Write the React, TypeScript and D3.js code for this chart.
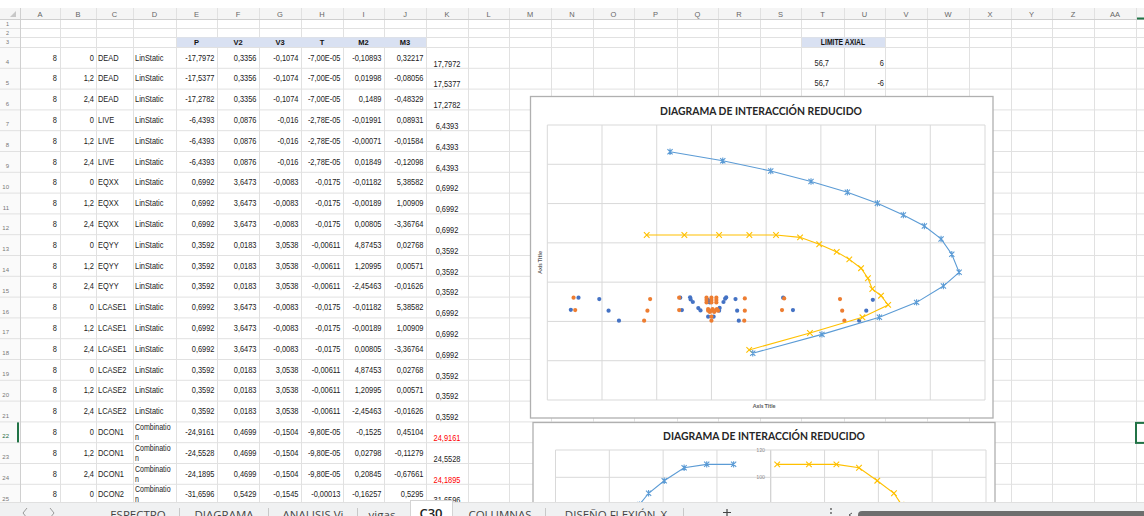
import React from 'react';
import * as d3 from 'd3';

// ---------- Chart 1 data (moment vs axial) ----------
const dotsBlueM = [-24.3, -25.7, -20.5, -18.8, -16.9, -5.7, -5.4, -3.9, -3.8, -3.4, -2.4, -2.0, -0.6, -0.3, -0.6, 0.4, 1.5, 1.4, 2.2, 2.5, 2.7, 4.4, 4.7, 5.0, 13.1, 14.9, 29.5, 28.3, 27.0];
const dotsBlueP = [12.1, 5.9, 11.4, 5.5, 0.4, 12.1, 5.8, 12.3, 11.2, 9.9, 6.8, 5.6, 10.9, 9.7, 2.4, 2.4, 6.9, 5.5, 9.9, 11.6, 12.2, 11.4, 5.5, 0.4, 12.1, 5.8, 11.0, 5.5, 0.4];
const dotsOrangeM = [-25.2, -24.9, -11.2, -11.7, -12.3, -5.9, -5.9, -0.9, 0, 0.9, -0.9, 0, 0.9, -0.9, 0, 0.9, -0.6, 0.2, 1.0, -0.6, 0, 0.6, 1.2, -0.3, 0.5, 0, 0, 6.1, 6.1, 6.0, 13.3, 12.9, 23.5, 23.9, 24.3];
const dotsOrangeP = [12.1, 5.8, 11.4, 5.5, 0.4, 12.1, 5.8, 12.1, 12.1, 12.1, 10.9, 10.9, 10.9, 9.7, 9.7, 9.7, 6.3, 6.3, 6.3, 5.5, 5.5, 5.5, 5.5, 4.8, 4.8, 2.4, 0.4, 11.7, 5.5, 0.4, 11.7, 5.8, 11.4, 5.5, 0.4];
const curveNominalM = [-7.57, 2.07, 10.84, 18.2, 24.84, 30.33, 35.08, 38.92, 41.97, 43.93, 45.27, 42.4, 37.5, 30.7, 20.2, 7.55];
const curveNominalP = [86.4, 81.8, 76.6, 71.2, 65.75, 60.2, 54.2, 48.6, 42.0, 34.2, 25.0, 18.0, 9.7, 2.1, -6.6, -16.2];
const curveDesignM = [-11.83, -4.95, 1.4, 6.93, 11.8, 16.2, 19.7, 22.9, 25.2, 27.35, 28.6, 29.4, 31.0, 32.3, 27.6, 18.0, 6.9];
const curveDesignP = [44.0, 44.0, 44.0, 44.0, 44.0, 42.8, 39.3, 35.4, 31.6, 27.1, 22.0, 16.5, 13.1, 8.4, 2.1, -5.9, -14.5];

// ---------- Chart 2 data ----------
const curve2LeftM = [-24.4, -22.7, -19.8, -16.1, -11.9, -6.9];
const curve2LeftP = [80.0, 88.3, 97.5, 107.0, 109.5, 109.5];
const curve2RightM = [1.2, 7.1, 12.2, 16.4, 19.8, 22.9, 24.3];
const curve2RightP = [109.5, 109.5, 109.5, 107.0, 97.5, 88.3, 80.0];

// ---------- Spreadsheet content ----------
const columnLetters = ['A', 'B', 'C', 'D', 'E', 'F', 'G', 'H', 'I', 'J', 'K', 'L', 'M', 'N', 'O', 'P', 'Q', 'R', 'S', 'T', 'U', 'V', 'W', 'X', 'Y', 'Z', 'AA'];
const headerLabels = ['P', 'V2', 'V3', 'T', 'M2', 'M3'];
const colStory = ['8', '8', '8', '8', '8', '8', '8', '8', '8', '8', '8', '8', '8', '8', '8', '8', '8', '8', '8', '8', '8', '8'];
const colStation = ['0', '1,2', '2,4', '0', '1,2', '2,4', '0', '1,2', '2,4', '0', '1,2', '2,4', '0', '1,2', '2,4', '0', '1,2', '2,4', '0', '1,2', '2,4', '0'];
const colCase = ['DEAD', 'DEAD', 'DEAD', 'LIVE', 'LIVE', 'LIVE', 'EQXX', 'EQXX', 'EQXX', 'EQYY', 'EQYY', 'EQYY', 'LCASE1', 'LCASE1', 'LCASE1', 'LCASE2', 'LCASE2', 'LCASE2', 'DCON1', 'DCON1', 'DCON1', 'DCON2'];
const colType = ['LinStatic', 'LinStatic', 'LinStatic', 'LinStatic', 'LinStatic', 'LinStatic', 'LinStatic', 'LinStatic', 'LinStatic', 'LinStatic', 'LinStatic', 'LinStatic', 'LinStatic', 'LinStatic', 'LinStatic', 'LinStatic', 'LinStatic', 'LinStatic', 'Combination', 'Combination', 'Combination', 'Combination'];
const colP = ['-17,7972', '-17,5377', '-17,2782', '-6,4393', '-6,4393', '-6,4393', '0,6992', '0,6992', '0,6992', '0,3592', '0,3592', '0,3592', '0,6992', '0,6992', '0,6992', '0,3592', '0,3592', '0,3592', '-24,9161', '-24,5528', '-24,1895', '-31,6596'];
const colV2 = ['0,3356', '0,3356', '0,3356', '0,0876', '0,0876', '0,0876', '3,6473', '3,6473', '3,6473', '0,0183', '0,0183', '0,0183', '3,6473', '3,6473', '3,6473', '0,0183', '0,0183', '0,0183', '0,4699', '0,4699', '0,4699', '0,5429'];
const colV3 = ['-0,1074', '-0,1074', '-0,1074', '-0,016', '-0,016', '-0,016', '-0,0083', '-0,0083', '-0,0083', '3,0538', '3,0538', '3,0538', '-0,0083', '-0,0083', '-0,0083', '3,0538', '3,0538', '3,0538', '-0,1504', '-0,1504', '-0,1504', '-0,1545'];
const colT = ['-7,00E-05', '-7,00E-05', '-7,00E-05', '-2,78E-05', '-2,78E-05', '-2,78E-05', '-0,0175', '-0,0175', '-0,0175', '-0,00611', '-0,00611', '-0,00611', '-0,0175', '-0,0175', '-0,0175', '-0,00611', '-0,00611', '-0,00611', '-9,80E-05', '-9,80E-05', '-9,80E-05', '-0,00013'];
const colM2 = ['-0,10893', '0,01998', '0,1489', '-0,01991', '-0,00071', '0,01849', '-0,01182', '-0,00189', '0,00805', '4,87453', '1,20995', '-2,45463', '-0,01182', '-0,00189', '0,00805', '4,87453', '1,20995', '-2,45463', '-0,1525', '0,02798', '0,20845', '-0,16257'];
const colM3 = ['0,32217', '-0,08056', '-0,48329', '0,08931', '-0,01584', '-0,12098', '5,38582', '1,00909', '-3,36764', '0,02768', '0,00571', '-0,01626', '5,38582', '1,00909', '-3,36764', '0,02768', '0,00571', '-0,01626', '0,45104', '-0,11279', '-0,67661', '0,5295'];
const colAbsP = ['17,7972', '17,5377', '17,2782', '6,4393', '6,4393', '6,4393', '0,6992', '0,6992', '0,6992', '0,3592', '0,3592', '0,3592', '0,6992', '0,6992', '0,6992', '0,3592', '0,3592', '0,3592', '24,9161', '24,5528', '24,1895', '31,6596'];
const absPRed = [false, false, false, false, false, false, false, false, false, false, false, false, false, false, false, false, false, false, true, false, true, false];
const limitLabel = 'LIMITE AXIAL';
const limitP = ['56,7', '56,7'];
const limitM = ['6', '-6'];
const sheetTabs = ['ESPECTRO', 'DIAGRAMA', 'ANALISIS Vi', 'vigas', 'C30', 'COLUMNAS', 'DISEÑO FLEXIÓN_X'];
const chartTitle = 'DIAGRAMA DE INTERACCIÓN REDUCIDO';

// ---------- layout ----------
const colEdges = [20, 60, 96, 133, 176, 217, 259, 301, 343, 384, 426, 468, 509, 551, 593, 634, 677, 718, 760, 801, 844, 885, 927, 969, 1011, 1052, 1094, 1136, 1178];
const rowTop = (r: number) => (r === 1 ? 19 : r === 2 ? 28 : r === 3 ? 37 : 47 + (r - 4) * 20.8);
const CELL_FONT = "'Liberation Sans', Arial, sans-serif";
const UI_FONT = "'Liberation Sans', Arial, sans-serif";
const TAB_FONT = "'Open Sans', 'Noto Sans', sans-serif";
const CHART_FONT = "Lato, 'Open Sans', sans-serif";

const BLUE_DOT = '#4472c4';
const ORANGE_DOT = '#ed7d31';
const YELLOW = '#ffc000';
const LIGHT_BLUE = '#5b9bd5';
const GRID = '#d9d9d9';

const starPath = 'M-2.6,-2.6L2.6,2.6M-2.6,2.6L2.6,-2.6M0,-3.2L0,3.2';
const xPath = 'M-2.8,-2.8L2.8,2.8M-2.8,2.8L2.8,-2.8';

// narrow cell text: Liberation Sans squeezed horizontally (like a narrow Excel font)
function Cell(props: { x: number; y: number; anchor?: string; fill?: string; bold?: boolean; size?: number; children: React.ReactNode }) {
  const { x, y, anchor, fill, bold, size, children } = props;
  return (
    <text
      transform={`translate(${x},${y}) scale(0.8,1)`}
      textAnchor={anchor || 'start'}
      fontFamily={CELL_FONT}
      fontSize={size || 9.3}
      fontWeight={bold ? 'bold' : 'normal'}
      fill={fill || '#222'}
    >
      {children}
    </text>
  );
}

function Sheet() {
  const rows = d3.range(1, 27);
  const dataRows = d3.range(0, 22);
  const numCols = [colP, colV2, colV3, colT, colM2, colM3];
  return (
    <g>
      <rect x={0} y={8} width={1144} height={11} fill="#f5f5f5" />
      <rect x={0} y={19} width={20} height={497} fill="#fafafa" />
      {rows.map((r) => (
        <line key={'h' + r} x1={0} x2={1144} y1={rowTop(r) + 0.5} y2={rowTop(r) + 0.5} stroke="#e1e1e1" />
      ))}
      {colEdges.map((x, i) => (
        <line key={'v' + i} x1={x + 0.5} x2={x + 0.5} y1={8} y2={516} stroke={i === 0 ? '#d0d0d0' : '#e1e1e1'} />
      ))}
      <line x1={0} x2={1144} y1={19.5} y2={19.5} stroke="#cfcfcf" />
      <line x1={1137} x2={1144} y1={18.5} y2={18.5} stroke="#217346" strokeWidth={2} />
      <path d="M16,11 L16,17 L10,17 Z" fill="#c8c8c8" />
      {columnLetters.map((c, i) => (
        <text key={c} x={(colEdges[i] + colEdges[i + 1]) / 2} y={16.5} textAnchor="middle" fontFamily={UI_FONT} fontSize={7.5} fill="#666">
          {c}
        </text>
      ))}
      {rows.slice(0, 25).map((r) => {
        const top = rowTop(r);
        const y = r <= 3 ? top + 7 : top + 17;
        return (
          <text key={'rn' + r} x={9} y={y} textAnchor="end" fontFamily={UI_FONT} fontSize={r <= 3 ? 5.5 : 6} fill={r === 22 ? '#1e6b43' : '#777'}>
            {r}
          </text>
        );
      })}
      <rect x={17} y={rowTop(22) + 1} width={2} height={20} fill="#217346" />
      <rect x={colEdges[4] + 1} y={37.5} width={colEdges[10] - colEdges[4] - 1} height={9.5} fill="#d9e1f2" />
      {headerLabels.map((h, i) => (
        <text key={h} x={(colEdges[4 + i] + colEdges[5 + i]) / 2} y={45.3} textAnchor="middle" fontFamily={UI_FONT} fontWeight="bold" fontSize={7.5} fill="#111">
          {h}
        </text>
      ))}
      <rect x={colEdges[19] + 1} y={37.5} width={colEdges[21] - colEdges[19] - 1} height={9.5} fill="#d9e1f2" />
      <Cell x={(colEdges[19] + colEdges[21]) / 2} y={45.3} anchor="middle" bold size={8.5} fill="#111">{limitLabel}</Cell>
      {limitP.map((v, i) => (
        <g key={'lim' + i}>
          <Cell x={829} y={rowTop(4 + i) + 18.5} anchor="end">{v}</Cell>
          <Cell x={884} y={rowTop(4 + i) + 18.5} anchor="end">{limitM[i]}</Cell>
        </g>
      ))}
      {dataRows.map((i) => {
        const top = rowTop(4 + i);
        const yb = top + 13.5;
        const isCombo = colType[i] === 'Combination';
        return (
          <g key={'row' + i}>
            <Cell x={57} y={yb} anchor="end">{colStory[i]}</Cell>
            <Cell x={94} y={yb} anchor="end">{colStation[i]}</Cell>
            <Cell x={98} y={yb}>{colCase[i]}</Cell>
            {isCombo ? (
              <Cell x={135} y={top + 8.6} size={8.8}>
                <tspan x={0}>{colType[i].slice(0, 10)}</tspan>
                <tspan x={0} dy={10}>{colType[i].slice(10)}</tspan>
              </Cell>
            ) : (
              <Cell x={135} y={yb}>{colType[i]}</Cell>
            )}
            {numCols.map((col, k) => (
              <Cell key={k} x={colEdges[5 + k] - 2.5} y={yb} anchor="end">{col[i]}</Cell>
            ))}
            <Cell x={447} y={top + 19.5} anchor="middle" fill={absPRed[i] ? '#ff0000' : '#222'}>{colAbsP[i]}</Cell>
          </g>
        );
      })}
      <rect x={1136} y={rowTop(22) + 1.5} width={12} height={20} fill="none" stroke="#217346" strokeWidth={2} />
    </g>
  );
}

function Chart1() {
  const left = 547.3, right = 985, top = 125, bottom = 400;
  const x = d3.scaleLinear().domain([-30, 50]).range([left, right]);
  const y = d3.scaleLinear().domain([-40, 100]).range([bottom, top]);
  const line = d3.line<[number, number]>().x((d) => x(d[0])).y((d) => y(d[1]));
  const nominal = curveNominalM.map((m, i) => [m, curveNominalP[i]] as [number, number]);
  const design = curveDesignM.map((m, i) => [m, curveDesignP[i]] as [number, number]);
  return (
    <g>
      <rect x={530.5} y={96.5} width={462.5} height={321.5} fill="#fff" stroke="#b0b0b0" strokeWidth={1.3} />
      <text x={761} y={114.5} textAnchor="middle" fontFamily={CHART_FONT} fontWeight="bold" fontSize={12} fill="#262626" textLength={202} lengthAdjust="spacingAndGlyphs">
        {chartTitle}
      </text>
      {x.ticks(8).map((t) => (
        <line key={'gx' + t} x1={x(t)} x2={x(t)} y1={top} y2={bottom} stroke={GRID} strokeWidth={1} />
      ))}
      {y.ticks(7).map((t) => (
        <line key={'gy' + t} x1={left} x2={right} y1={y(t)} y2={y(t)} stroke={GRID} strokeWidth={1} />
      ))}
      {dotsBlueM.map((m, i) => (
        <circle key={'b' + i} cx={x(m)} cy={y(dotsBlueP[i])} r={2.1} fill={BLUE_DOT} />
      ))}
      {dotsOrangeM.map((m, i) => (
        <circle key={'o' + i} cx={x(m)} cy={y(dotsOrangeP[i])} r={2.1} fill={ORANGE_DOT} />
      ))}
      <path d={line(design) || ''} fill="none" stroke={YELLOW} strokeWidth={1.1} />
      {design.map((d, i) => (
        <path key={'dm' + i} d={xPath} transform={`translate(${x(d[0])},${y(d[1])})`} stroke={YELLOW} strokeWidth={1.1} fill="none" />
      ))}
      <path d={line(nominal) || ''} fill="none" stroke={LIGHT_BLUE} strokeWidth={1.1} />
      {nominal.map((d, i) => (
        <path key={'nm' + i} d={starPath} transform={`translate(${x(d[0])},${y(d[1])})`} stroke={LIGHT_BLUE} strokeWidth={1.1} fill="none" />
      ))}
      <text x={(left + right) / 2 - 2} y={408} textAnchor="middle" fontFamily={CHART_FONT} fontWeight="bold" fontSize={5.5} fill="#595959">Axis Title</text>
      <text transform={`translate(541.5,${(top + bottom) / 2}) rotate(-90)`} textAnchor="middle" fontFamily={CHART_FONT} fontWeight="bold" fontSize={5.5} fill="#595959">Axis Title</text>
    </g>
  );
}

function Chart2() {
  const left = 555.5, right = 986, top = 450;
  const x = d3.scaleLinear().domain([-40, 40]).range([left, right]);
  const y = d3.scaleLinear().domain([0, 120]).range([top + 120 * 27.3 / 20, top]);
  const line = d3.line<[number, number]>().x((d) => x(d[0])).y((d) => y(d[1]));
  const leftCurve = curve2LeftM.map((m, i) => [m, curve2LeftP[i]] as [number, number]);
  const rightCurve = curve2RightM.map((m, i) => [m, curve2RightP[i]] as [number, number]);
  const visibleTicks = y.ticks(6).filter((t) => y(t) < 495);
  return (
    <g>
      <rect x={533} y={422.5} width={462} height={120} fill="#fff" stroke="#b0b0b0" strokeWidth={1.3} />
      <text x={764} y={439.5} textAnchor="middle" fontFamily={CHART_FONT} fontWeight="bold" fontSize={12} fill="#262626" textLength={202} lengthAdjust="spacingAndGlyphs">
        {chartTitle}
      </text>
      {x.ticks(8).map((t) => (
        <line key={'gx' + t} x1={x(t)} x2={x(t)} y1={top} y2={520} stroke={t === 0 ? '#c4c4c4' : GRID} />
      ))}
      {y.ticks(6).map((t) => (
        <line key={'gy' + t} x1={left} x2={right} y1={y(t)} y2={y(t)} stroke={GRID} />
      ))}
      {visibleTicks.map((t) => (
        <text key={'ty' + t} x={765} y={y(t) + 1.8} textAnchor="end" fontFamily={CHART_FONT} fontSize={5} fill="#8c8c8c">{t}</text>
      ))}
      <path d={line(leftCurve) || ''} fill="none" stroke={LIGHT_BLUE} strokeWidth={1.1} />
      {leftCurve.map((d, i) => (
        <path key={'l' + i} d={starPath} transform={`translate(${x(d[0])},${y(d[1])})`} stroke={LIGHT_BLUE} strokeWidth={1.1} fill="none" />
      ))}
      <path d={line(rightCurve) || ''} fill="none" stroke={YELLOW} strokeWidth={1.1} />
      {rightCurve.map((d, i) => (
        <path key={'r' + i} d={xPath} transform={`translate(${x(d[0])},${y(d[1])})`} stroke={YELLOW} strokeWidth={1.1} fill="none" />
      ))}
    </g>
  );
}

function TabBar() {
  const tabCenters = [138, 224, 313, 382, 431, 500, 616];
  const separators = [179, 268, 357, 545, 683];
  return (
    <g>
      <rect x={0} y={502} width={1144} height={14} fill="#f0f1f2" />
      <line x1={0} x2={1144} y1={502.5} y2={502.5} stroke="#e0e0e0" />
      <path d="M27,508 L23,513 L27,518" fill="none" stroke="#9a9a9a" strokeWidth={1} />
      <path d="M50,508 L54,513 L50,518" fill="none" stroke="#9a9a9a" strokeWidth={1} />
      <rect x={410.5} y={500.5} width={42} height={18} fill="#fff" stroke="#d4d4d4" />
      {sheetTabs.map((t, i) => (
        <text key={t} x={tabCenters[i]} y={i === 4 ? 517.5 : 518.5} textAnchor="middle" fontFamily={TAB_FONT} fontSize={i === 4 ? 13 : 11.5} fontWeight={i === 4 ? 600 : 400} fill={i === 4 ? '#222' : '#444'}>
          {t}
        </text>
      ))}
      {separators.map((s) => (
        <line key={s} x1={s + 0.5} x2={s + 0.5} y1={508} y2={516} stroke="#c8c8c8" />
      ))}
      <path d="M727,509 L727,516 M723,512.5 L731,512.5" stroke="#444" strokeWidth={1.2} />
      <circle cx={831} cy={509} r={0.9} fill="#555" />
      <circle cx={831} cy={513} r={0.9} fill="#555" />
      <path d="M852,513 L849,515 L852,517" fill="none" stroke="#555" strokeWidth={1} />
      <rect x={858} y={511} width={300} height={10} rx={4} fill="#6e6e6e" />
    </g>
  );
}

export default function App() {
  return (
    <div style={{ position: 'absolute', left: 0, top: 0, width: 1144, height: 516, overflow: 'hidden', background: '#fff' }}>
      <svg width={1144} height={516} viewBox="0 0 1144 516" style={{ display: 'block' }}>
        <rect x={0} y={0} width={1144} height={516} fill="#fff" />
        <Sheet />
        <Chart1 />
        <Chart2 />
        <TabBar />
      </svg>
    </div>
  );
}
